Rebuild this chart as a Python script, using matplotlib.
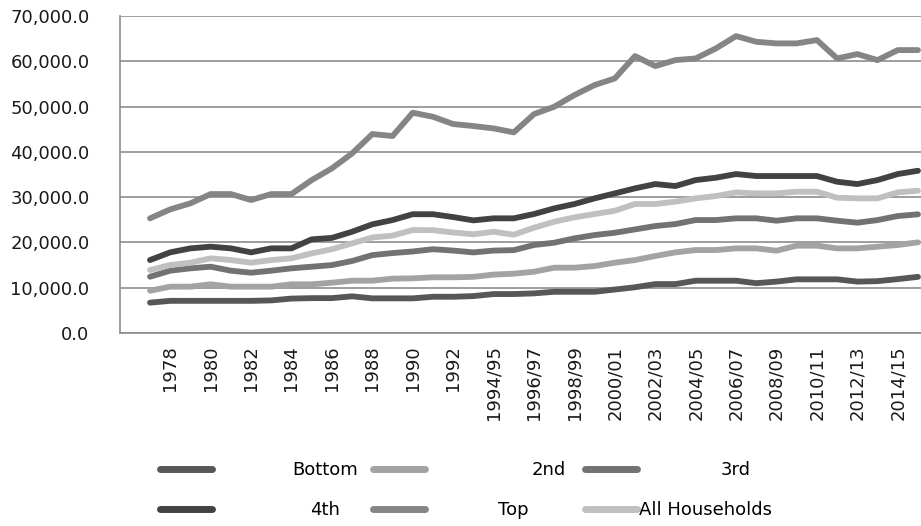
import numpy as np
import matplotlib
matplotlib.use("Agg")
import matplotlib.pyplot as plt
from matplotlib.lines import Line2D
from matplotlib.ticker import FuncFormatter

years = [str(y) for y in range(1977, 1994)] + \
        [f"{y}/{(y + 1) % 100:02d}" for y in range(1994, 2016)]

bottom = [6700, 7100, 7100, 7100, 7100, 7100, 7200, 7600, 7700, 7700,
          8100, 7650, 7650, 7650, 8000, 8000, 8150, 8600, 8600,
          8750, 9100, 9100, 9100, 9600, 10100, 10800, 10800, 11550, 11550,
          11550, 11000, 11350, 11850, 11850, 11850, 11350, 11450, 11900, 12400]
second = [9340, 10230, 10230, 10750, 10230, 10230, 10230, 10750, 10750, 11110,
          11550, 11550, 12000, 12070, 12300, 12300, 12400, 12900, 13100,
          13530, 14420, 14420, 14790, 15530, 16110, 17000, 17810, 18320, 18320,
          18690, 18690, 18170, 19280, 19280, 18690, 18690, 19060, 19430, 20020]
third = [12430, 13760, 14280, 14640, 13760, 13310, 13760, 14280, 14640, 15000,
         15900, 17200, 17650, 18000, 18500, 18200, 17800, 18200, 18300,
         19430, 19940, 20900, 21630, 22140, 22880, 23620, 24060, 24940, 24940,
         25320, 25320, 24800, 25320, 25320, 24800, 24360, 24940, 25830, 26200]
fourth = [16110, 17810, 18690, 19060, 18690, 17810, 18690, 18690, 20680, 21000,
          22360, 24000, 24940, 26230, 26230, 25600, 24870, 25320, 25320,
          26270, 27520, 28480, 29730, 30830, 31940, 32890, 32450, 33770, 34290,
          35100, 34660, 34660, 34660, 34660, 33400, 32890, 33770, 35100, 35830]
top = [25320, 27300, 28630, 30680, 30680, 29360, 30680, 30680, 33770, 36350,
       39660, 43930, 43490, 48640, 47750, 46140, 45700, 45180, 44300,
       48340, 49960, 52540, 54750, 56220, 61150, 58940, 60260, 60630, 62840,
       65560, 64310, 63950, 63950, 64680, 60630, 61590, 60260, 62470, 62470]
all_hh = [13910, 15010, 15530, 16490, 16110, 15530, 16110, 16490, 17590, 18500,
          19800, 21100, 21500, 22740, 22700, 22200, 21800, 22360, 21700,
          23250, 24570, 25540, 26270, 27000, 28480, 28480, 29000, 29730, 30240,
          31050, 30830, 30830, 31200, 31200, 29870, 29730, 29730, 31050, 31420]

names = ["Bottom", "2nd", "3rd", "4th", "Top", "All Households"]
series = [bottom, second, third, fourth, top, all_hh]
colors = ["#575757", "#a3a3a3", "#727272", "#424242", "#858585", "#c0c0c0"]

fig = plt.figure(figsize=(9.21, 5.26), dpi=100)
ax = fig.add_axes([120/921, 1 - 333/526, 801/921, 317/526])

x = np.arange(len(years))
lines = []
for vals, name, col in zip(series, names, colors):
    ln, = ax.plot(x, vals, color=col, lw=4.2, label=name,
                  solid_capstyle="round", solid_joinstyle="round")
    lines.append(ln)

ax.set_ylim(0, 70000)
ax.set_xlim(-1.485, 38.15)
ax.set_yticks(np.arange(0, 70001, 10000))
ax.yaxis.set_major_formatter(FuncFormatter(lambda v, p: f"{v:,.1f}"))
ax.set_xticks(x[1::2])
ax.set_xticklabels(years[1::2], rotation=90)
ax.tick_params(axis="y", length=0, pad=22, labelsize=13, labelcolor="#1a1a1a")
ax.tick_params(axis="x", length=0, pad=9, labelsize=13, labelcolor="#1a1a1a")
ax.grid(axis="y", color="#8c8c8c", lw=1.2)
ax.set_axisbelow(True)
for s in ["top", "right"]:
    ax.spines[s].set_visible(False)
for s in ["left", "bottom"]:
    ax.spines[s].set_color("#8c8c8c")
    ax.spines[s].set_linewidth(1.2)

# legend: one small legend per entry, laid out like the original
fam = ["Liberation Sans Narrow", "DejaVu Sans"]
spots = [(160, 470, 4.4), (373, 470, 5.9), (585, 470, 4.6),
         (160, 510, 5.4), (373, 510, 4.0), (585, 510, 0.1)]
for ln, name, (px, py, pad) in zip(lines, names, spots):
    h = Line2D([], [], color=ln.get_color(), lw=5, solid_capstyle="round")
    fig.legend([h], [name], loc="center left",
               bbox_to_anchor=(px / 921, 1 - py / 526),
               frameon=False, borderpad=0, borderaxespad=0,
               handlelength=2.9, handletextpad=pad,
               prop={"family": fam, "size": 13})

fig.savefig("out.png", dpi=100)
